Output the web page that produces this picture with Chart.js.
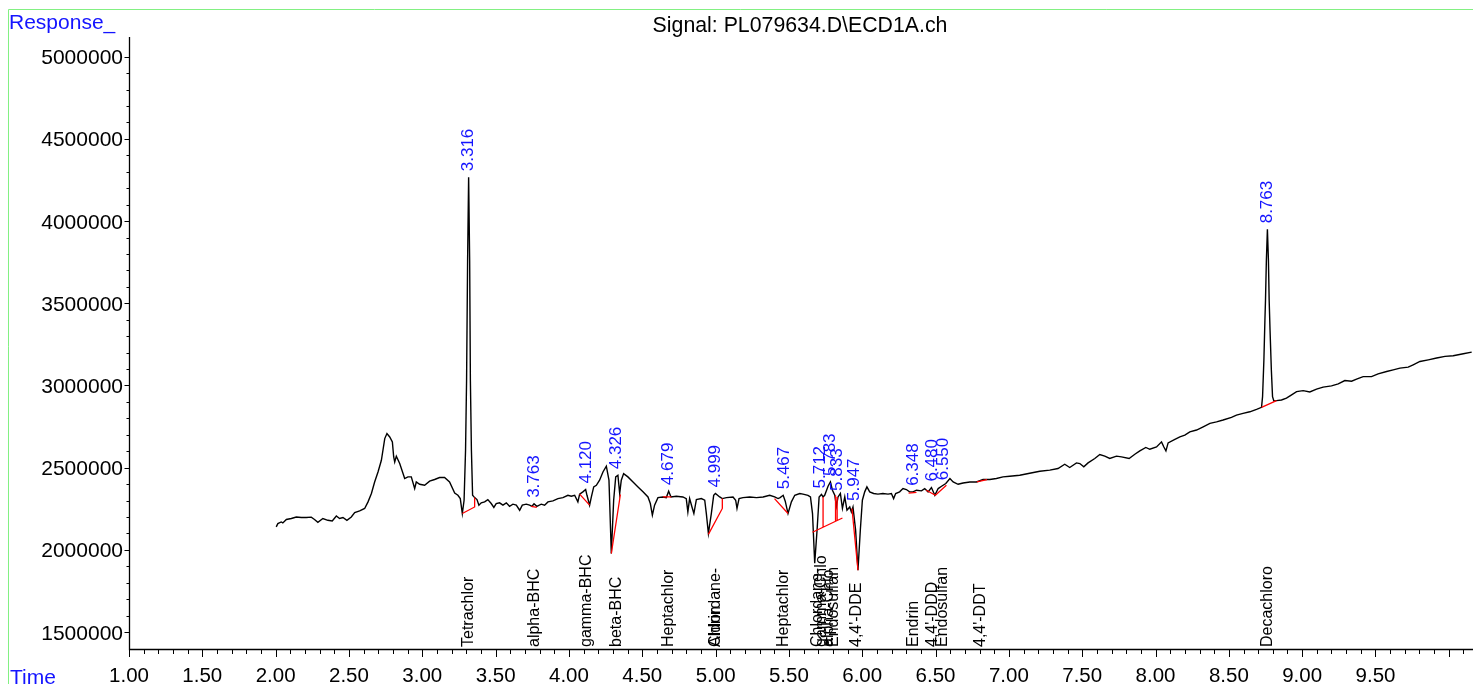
<!DOCTYPE html>
<html><head><meta charset="utf-8">
<script src="https://cdn.jsdelivr.net/npm/chart.js@4.4.1/dist/chart.umd.min.js"></script>
<style>html,body{margin:0;padding:0;background:#fff;overflow:hidden}canvas{display:block}</style>
</head><body>
<canvas id="c" width="1473" height="684"></canvas>
<script>
// ---- data (time in min, response) ----
const traceT = [2.004,2.015,2.038,2.049,2.073,2.107,2.141,2.175,2.209,2.243,2.265,2.288,2.322,2.356,2.386,2.414,2.436,2.459,2.486,2.516,
2.539,2.573,2.607,2.630,2.653,2.675,2.698,2.721,2.744,2.759,2.778,2.796,2.805,2.812,2.823,2.846,2.880,2.902,2.925,2.948,
2.959,2.982,3.016,3.050,3.084,3.118,3.152,3.186,3.221,3.243,3.259,3.273,3.285,3.295,3.302,3.309,3.316,3.323,3.328,3.335,
3.343,3.357,3.373,3.386,3.402,3.425,3.447,3.470,3.488,3.504,3.527,3.550,3.573,3.595,3.618,3.641,3.664,3.682,3.709,3.732,
3.748,3.762,3.781,3.811,3.834,3.857,3.891,3.925,3.959,3.993,4.016,4.039,4.061,4.073,4.095,4.114,4.123,4.141,4.153,4.169,
4.187,4.209,4.232,4.255,4.273,4.289,4.305,4.319,4.334,4.346,4.357,4.373,4.402,4.437,4.471,4.505,4.539,4.555,4.569,4.584,
4.607,4.641,4.664,4.680,4.696,4.732,4.777,4.800,4.811,4.823,4.839,4.852,4.869,4.903,4.926,4.937,4.951,4.971,4.987,4.999,
5.028,5.046,5.074,5.119,5.137,5.146,5.160,5.187,5.233,5.279,5.324,5.369,5.403,5.426,5.440,5.461,5.475,5.494,5.517,5.540,
5.574,5.596,5.630,5.647,5.661,5.676,5.692,5.706,5.722,5.733,5.744,5.767,5.783,5.797,5.813,5.824,5.835,5.851,5.865,5.881,
5.896,5.915,5.926,5.937,5.955,5.971,5.987,6.001,6.017,6.032,6.051,6.078,6.107,6.141,6.176,6.199,6.214,6.228,6.255,6.278,
6.301,6.323,6.346,6.370,6.404,6.426,6.449,6.472,6.495,6.518,6.541,6.570,6.598,6.620,6.654,6.688,6.734,6.779,6.824,6.870,
6.915,6.960,7.006,7.074,7.142,7.211,7.279,7.335,7.381,7.415,7.461,7.484,7.511,7.540,7.586,7.620,7.654,7.688,7.734,7.768,
7.820,7.859,7.893,7.934,7.961,8.007,8.041,8.057,8.071,8.086,8.132,8.166,8.200,8.234,8.280,8.325,8.371,8.416,8.461,8.518,
8.552,8.597,8.643,8.689,8.723,8.730,8.739,8.746,8.750,8.756,8.763,8.770,8.775,8.781,8.790,8.798,8.807,8.825,8.859,8.893,
8.928,8.962,9.007,9.052,9.098,9.143,9.200,9.246,9.291,9.337,9.371,9.416,9.473,9.518,9.576,9.621,9.667,9.723,9.757,9.803,
9.860,9.917,9.974,10.030,10.099,10.156];
const traceV = [2140000,2160000,2170000,2164000,2185000,2191000,2200000,2197000,2197000,2199000,2185000,2168000,2191000,2180000,2176000,2206000,2191000,2197000,2180000,2200000,
2227000,2237000,2252000,2292000,2343000,2413000,2474000,2545000,2677000,2708000,2687000,2657000,2565000,2535000,2570000,2525000,2434000,2444000,2444000,2373000,
2413000,2399000,2393000,2418000,2428000,2440000,2440000,2413000,2346000,2332000,2312000,2221000,2302000,2606000,3032000,3762000,4267000,3762000,3032000,2606000,
2332000,2318000,2306000,2272000,2286000,2292000,2306000,2282000,2258000,2282000,2286000,2272000,2286000,2265000,2278000,2272000,2241000,2272000,2278000,2272000,
2265000,2280000,2265000,2278000,2272000,2292000,2298000,2312000,2318000,2332000,2326000,2332000,2292000,2339000,2353000,2367000,2332000,2272000,2322000,2383000,
2393000,2424000,2474000,2509000,2424000,1978000,2302000,2444000,2454000,2343000,2424000,2464000,2444000,2413000,2383000,2353000,2322000,2282000,2211000,2272000,
2318000,2322000,2318000,2357000,2322000,2326000,2322000,2312000,2231000,2312000,2261000,2221000,2306000,2312000,2302000,2221000,2100000,2221000,2332000,2343000,
2322000,2312000,2318000,2322000,2302000,2252000,2312000,2318000,2322000,2318000,2322000,2332000,2322000,2312000,2318000,2332000,2296000,2221000,2292000,2332000,
2343000,2339000,2332000,2322000,2221000,1919000,2119000,2322000,2337000,2322000,2332000,2387000,2413000,2363000,2332000,2265000,2322000,2343000,2252000,2322000,
2241000,2261000,2231000,2261000,2119000,1876000,2119000,2302000,2353000,2383000,2353000,2343000,2339000,2343000,2339000,2343000,2312000,2343000,2353000,2373000,
2367000,2353000,2353000,2363000,2359000,2373000,2353000,2379000,2332000,2373000,2387000,2404000,2434000,2413000,2399000,2407000,2413000,2413000,2428000,2428000,
2434000,2444000,2448000,2454000,2466000,2478000,2485000,2495000,2521000,2501000,2529000,2525000,2505000,2529000,2556000,2580000,2570000,2556000,2570000,2566000,
2556000,2582000,2602000,2623000,2612000,2626000,2657000,2626000,2602000,2651000,2672000,2688000,2698000,2718000,2729000,2749000,2770000,2779000,2790000,2806000,
2820000,2830000,2840000,2855000,2867000,2932000,3154000,3397000,3519000,3762000,3950000,3762000,3519000,3336000,3093000,2932000,2906000,2908000,2912000,2923000,
2943000,2963000,2969000,2961000,2978000,2990000,2998000,3010000,3030000,3026000,3039000,3054000,3054000,3071000,3085000,3095000,3106000,3112000,3126000,3146000,
3156000,3167000,3177000,3181000,3193000,3203000];

// integration baselines (red), null separates segments
const baseT = [3.273,3.357,3.357,null, 3.743,3.781,null, 4.073,4.141,null, 4.289,4.351,null, 4.641,4.698,null,
  4.951,5.046,5.046,null, 5.402,5.494,null, 5.661,5.865,null, 5.733,5.733,null, 5.818,5.818,null, 5.829,5.829,null,
  5.930,5.971,null, 6.316,6.370,null, 6.437,6.499,6.574,null, 6.782,6.851,null, 8.723,8.825];
const baseV = [2221000,2261000,2318000,null, 2265000,2259000,null, 2339000,2272000,null, 1978000,2337000,null, 2322000,2322000,null,
  2094000,2252000,2312000,null, 2312000,2221000,null, 2107000,2194000,null, 2138000,2322000,null, 2174000,2332000,null, 2179000,2322000,null,
  2252000,1876000,null, 2345000,2350000,null, 2363000,2332000,2393000,null, 2413000,2428000,null, 2867000,2908000];

// retention time labels
const rtLabels = [3.316,3.763,4.120,4.326,4.679,4.999,5.467,5.712,5.783,5.833,5.947,6.348,6.480,6.550,6.806,8.763];

// compound names and where they are written
const compNames = ["Tetrachlor","alpha-BHC","gamma-BHC","beta-BHC","Heptachlor","Chlordane-","Aldrin","Heptachlor",
  "Chlordane-","gamma-Chlo","alpha-Chlo","Endosulfan","4,4'-DDE","Endrin","4,4'-DDD","Endosulfan","4,4'-DDT","Decachloro"];
const compRT = [3.316,3.763,4.120,4.326,4.679,4.999,4.999,5.467,5.697,5.722,5.772,5.805,5.960,6.348,6.480,6.550,6.806,8.763];

// axis tick labels
const xTickValues = [1.0,1.5,2.0,2.5,3.0,3.5,4.0,4.5,5.0,5.5,6.0,6.5,7.0,7.5,8.0,8.5,9.0,9.5];
const yTickValues = [1500000,2000000,2500000,3000000,3500000,4000000,4500000,5000000];

const titleText = "Signal: PL079634.D\\ECD1A.ch";
const yAxisTitle = "Response_";
const xAxisTitle = "Time";
const xRange = [1.0, 10.165];
const yRange = [1397000, 5120000];

const FONT = "'Liberation Sans', Arial, sans-serif";
const BLUE = 'rgb(20,20,255)';

const annot = {
  id: 'annot',
  afterDraw(chart) {
    const {ctx, chartArea: a, scales: {x, y}} = chart;
    ctx.save();
    // frame
    ctx.strokeStyle = 'rgb(130,240,130)'; ctx.lineWidth = 1;
    ctx.beginPath(); ctx.moveTo(8.5, 684); ctx.lineTo(8.5, 9.5); ctx.lineTo(1473, 9.5); ctx.stroke();
    // axes
    ctx.strokeStyle = '#000'; ctx.lineWidth = 1.3;
    ctx.beginPath(); ctx.moveTo(a.left + 0.5, a.top); ctx.lineTo(a.left + 0.5, a.bottom + 0.5); ctx.lineTo(a.right, a.bottom + 0.5); ctx.stroke();
    ctx.lineWidth = 1;
    ctx.beginPath();
    for (let i = 10; i <= 101; i++) {
      const px = Math.round(x.getPixelForValue(i / 10)) + 0.5;
      ctx.moveTo(px, a.bottom); ctx.lineTo(px, a.bottom + (i % 5 === 0 ? 8 : 5));
    }
    for (let i = 15; i <= 50; i++) {
      const py = Math.round(y.getPixelForValue(i * 100000)) + 0.5;
      ctx.moveTo(a.left, py); ctx.lineTo(a.left - (i % 5 === 0 ? 4.5 : 2.5), py);
    }
    ctx.stroke();
    // tick labels
    ctx.fillStyle = '#000'; ctx.textBaseline = 'alphabetic';
    ctx.font = '20.5px ' + FONT; ctx.textAlign = 'center';
    xTickValues.forEach(v => ctx.fillText(v.toFixed(2), x.getPixelForValue(v), a.bottom + 33));
    ctx.font = '21px ' + FONT; ctx.textAlign = 'right';
    yTickValues.forEach(v => ctx.fillText(String(v), a.left - 6, y.getPixelForValue(v) + 7.5));
    // titles
    ctx.font = '21.3px ' + FONT; ctx.textAlign = 'center';
    ctx.fillText(titleText, 800, 31.5);
    ctx.fillStyle = BLUE; ctx.textAlign = 'left';
    ctx.font = '21px ' + FONT;
    ctx.fillText(yAxisTitle, 9, 29.3);
    ctx.fillText(xAxisTitle, 10, 684);
    // RT labels
    ctx.font = '17px ' + FONT; ctx.textBaseline = 'middle'; ctx.textAlign = 'left';
    rtLabels.forEach(rt => {
      let best = -Infinity;
      traceT.forEach((t, i) => { if (Math.abs(t - rt) <= 0.012 && traceV[i] > best) best = traceV[i]; });
      const px = x.getPixelForValue(rt), py = y.getPixelForValue(best) - 6;
      ctx.save(); ctx.translate(px, py); ctx.rotate(-Math.PI / 2); ctx.fillText(rt.toFixed(3), 0, 0); ctx.restore();
    });
    // compound names
    ctx.fillStyle = '#000'; ctx.font = '16px ' + FONT;
    compNames.forEach((n, i) => {
      const px = x.getPixelForValue(compRT[i]);
      ctx.save(); ctx.translate(px, a.bottom - 2); ctx.rotate(-Math.PI / 2); ctx.fillText(n, 0, 0); ctx.restore();
    });
    ctx.restore();
  }
};

const baseData = baseT.map((t, i) => t === null ? {x: baseT[i - 1], y: null} : {x: t, y: baseV[i]});
const traceData = traceT.map((t, i) => ({x: t, y: traceV[i]}));

new Chart(document.getElementById('c'), {
  type: 'line',
  data: { datasets: [
    { label: 'baseline', data: baseData, borderColor: '#ff0000', borderWidth: 1.3, pointRadius: 0, spanGaps: false, tension: 0 },
    { label: 'signal', data: traceData, borderColor: '#000000', borderWidth: 1.4, pointRadius: 0, tension: 0 }
  ]},
  options: {
    responsive: false, animation: false, devicePixelRatio: 1,
    layout: { padding: { top: 37, left: 0, right: 0, bottom: 0 } },
    plugins: { legend: { display: false }, tooltip: { enabled: false }, title: { display: false } },
    scales: {
      x: { type: 'linear', min: xRange[0], max: xRange[1], afterFit(s) { s.height = 35; },
        grid: { display: false, drawTicks: false }, border: { display: false }, ticks: { display: false } },
      y: { type: 'linear', min: yRange[0], max: yRange[1], afterFit(s) { s.width = 129; },
        grid: { display: false, drawTicks: false }, border: { display: false }, ticks: { display: false } }
    }
  },
  plugins: [annot]
});
</script>
</body></html>
